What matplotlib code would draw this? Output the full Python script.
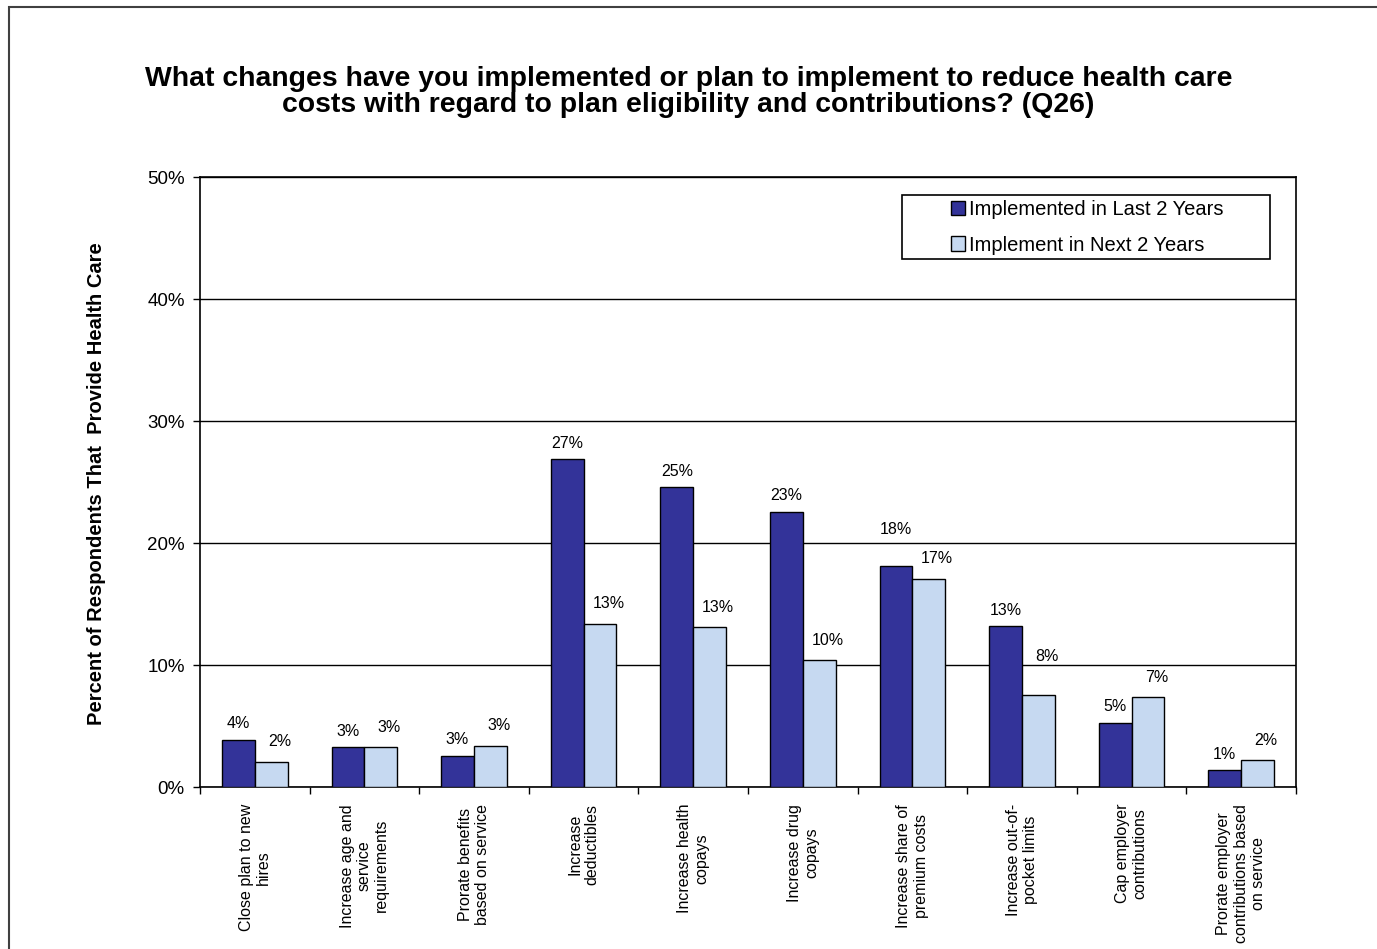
import matplotlib
matplotlib.use("Agg")
import matplotlib.pyplot as plt
from matplotlib.patches import Rectangle
from matplotlib.ticker import FixedLocator, PercentFormatter
import numpy as np

plt.rcParams['font.family'] = ['Liberation Sans', 'DejaVu Sans']

categories = [
    "Close plan to new\nhires",
    "Increase age and\nservice\nrequirements",
    "Prorate benefits\nbased on service",
    "Increase\ndeductibles",
    "Increase health\ncopays",
    "Increase drug\ncopays",
    "Increase share of\npremium costs",
    "Increase out-of-\npocket limits",
    "Cap employer\ncontributions",
    "Prorate employer\ncontributions based\non service",
]
implemented_last_2 = [3.9, 3.3, 2.6, 26.9, 24.6, 22.6, 18.1, 13.2, 5.3, 1.4]
implement_next_2 = [2.1, 3.3, 3.4, 13.4, 13.1, 10.4, 17.1, 7.6, 7.4, 2.2]
series_names = ["Implemented in Last 2 Years", "Implement in Next 2 Years"]
y_ticks = [0, 10, 20, 30, 40, 50]

title = ("What changes have you implemented or plan to implement to reduce health care\n"
         "costs with regard to plan eligibility and contributions? (Q26)")
y_label = "Percent of Respondents That  Provide Health Care"

dark = "#333399"
light = "#C6D9F1"

W, H = 1377, 949
fig = plt.figure(figsize=(W / 100, H / 100), dpi=100)
fig.patch.set_facecolor("white")

# outer chart frame (left/top edges visible, right/bottom run off the canvas)
fig.patches.append(Rectangle((9 / W, -0.05), 1.1, 1 - 7 / H + 0.05,
                             transform=fig.transFigure, fill=False,
                             edgecolor="#404040", linewidth=1.5))

left, right = 200 / W, 1296 / W
bottom, top = 1 - 787.3 / H, 1 - 177.3 / H
ax = fig.add_axes([left, bottom, right - left, top - bottom])

x = np.arange(len(categories))
bw = 0.3
b1 = ax.bar(x - bw / 2, implemented_last_2, bw, color=dark, edgecolor="black",
            linewidth=1.0, label=series_names[0], zorder=3)
b2 = ax.bar(x + bw / 2, implement_next_2, bw, color=light, edgecolor="black",
            linewidth=1.0, label=series_names[1], zorder=3)

# value labels (a couple nudged higher to clear neighbouring marks)
nudge_dark = {6: 15}
nudge_light = {7: 13}
for i, v in enumerate(implemented_last_2):
    ax.annotate(f"{v:.0f}%", (x[i] - bw / 2, v), xytext=(0, 6 + nudge_dark.get(i, 0)),
                textcoords="offset points", ha="center", va="bottom", fontsize=11.5)
for i, v in enumerate(implement_next_2):
    ax.annotate(f"{v:.0f}%", (x[i] + bw / 2, v), xytext=(6, 9 + nudge_light.get(i, 0)),
                textcoords="offset points", ha="center", va="bottom", fontsize=11.5)

ax.set_xlim(-0.5, len(categories) - 0.5)
ax.set_ylim(0, 50)
ax.set_yticks(y_ticks)
ax.yaxis.set_major_formatter(PercentFormatter(decimals=0))
ax.tick_params(axis="y", direction="out", length=5, width=1, labelsize=13.5, pad=6)

ax.set_xticks(x)
ax.set_xticklabels(categories, rotation=90, ha="center", va="top",
                   multialignment="center", fontsize=11.5)
ax.tick_params(axis="x", which="major", length=0, pad=12)
ax.xaxis.set_minor_locator(FixedLocator(np.arange(-0.5, len(categories), 1.0)))
ax.tick_params(axis="x", which="minor", direction="out", length=5, width=1)

ax.grid(axis="y", color="black", linewidth=1.0, zorder=0)
ax.set_axisbelow(True)
for s in ax.spines.values():
    s.set_color("black")
    s.set_linewidth(1.2)

fig.text(97 / W, 1 - 484 / H, y_label, rotation=90, ha="center", va="center",
         fontsize=14.5, fontweight="bold")
fig.text(0.5, 1 - 92 / H, title, ha="center", va="center", fontsize=20.4,
         fontweight="bold", linespacing=1.0)

# legend box
lx0, lx1 = (902 - 200) / 1096, (1270 - 200) / 1096
ly0, ly1 = (787.3 - 259) / 610, (787.3 - 195) / 610
ax.add_patch(Rectangle((lx0, ly0), lx1 - lx0, ly1 - ly0, transform=ax.transAxes,
                       facecolor="white", edgecolor="black", linewidth=1.2, zorder=4))
leg = ax.legend(loc="center", bbox_to_anchor=((1087 - 200) / 1096, (787.3 - 227.5) / 610),
                frameon=False, fontsize=14.5, handlelength=0.7, handleheight=0.7,
                handletextpad=0.2, labelspacing=0.8, borderpad=0)
leg.set_zorder(5)

fig.savefig("out.png", dpi=100, facecolor="white")
